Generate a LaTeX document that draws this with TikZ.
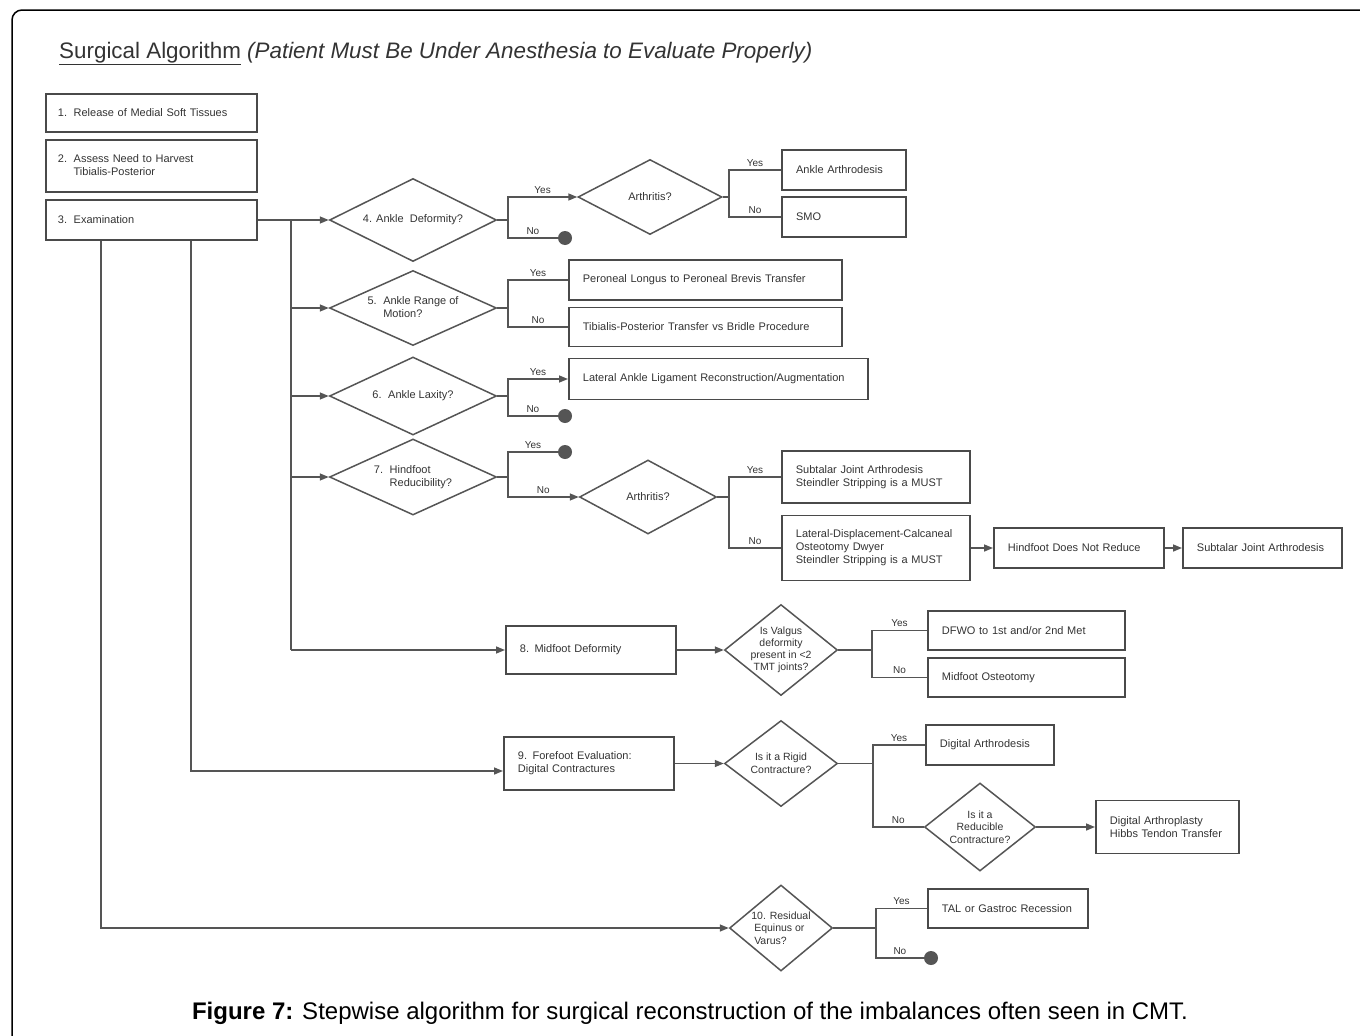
\documentclass[tikz,border=0pt]{standalone}
\usepackage{fontspec}
\setmainfont{Liberation Sans}
\usetikzlibrary{shapes.geometric,arrows.meta}
\definecolor{ln}{HTML}{555555}
\definecolor{bd}{HTML}{4A4A4A}
\definecolor{tx}{HTML}{333333}
\newcommand\hangtxt[3]{\begin{tabular}[c]{@{}l@{\hspace{0.6em}}l@{}}#1&#2\\&#3\end{tabular}}
\begin{document}
\begin{tikzpicture}[x=1pt,y=-1pt,
  every node/.style={text=tx, font=\fontsize{11}{13}\selectfont},
  box/.style={draw=bd, line width=1.8pt, anchor=west, inner xsep=14pt, inner ysep=2pt, align=left},
  dia/.style={draw=ln, line width=1.5pt, diamond, inner sep=-12pt, align=center},
  conn/.style={draw=ln, line width=1.5pt},
  arr/.style={conn, -{Triangle[length=9pt,width=7pt]}},
  lab/.style={font=\fontsize{10}{12}\selectfont, above=2pt, inner sep=1pt, pos=0.75},
  enddot/.style={circle, fill=ln, minimum size=14pt, inner sep=0pt},
]
\useasboundingbox (0,0) rectangle (1360,1036);
\draw[line width=1.5pt, rounded corners=10pt] (12,1040) -- (12,10) -- (1365,10);

% title and caption
\node[anchor=base west, inner sep=0pt, font=\fontsize{22.4}{26}\selectfont] (title) at (59,58)
  {\underline{Surgical Algorithm} \textit{(Patient Must Be Under Anesthesia to Evaluate Properly)}};
\node[anchor=base, inner sep=0pt, text=black, font=\fontsize{24}{28}\selectfont] (cap) at (690,1019)
  {\textbf{Figure 7:} Stepwise algorithm for surgical reconstruction of the imbalances often seen in CMT.};

% left column
\node[box, inner xsep=12pt, minimum width=211pt, minimum height=38pt, text width=187pt] (b1) at (45,113) {1.\hspace{0.6em}Release of Medial Soft Tissues};
\node[box, inner xsep=12pt, minimum width=211pt, minimum height=52pt, text width=187pt] (b2) at (45,166) {\hangtxt{2.}{Assess Need to Harvest}{Tibialis-Posterior}};
\node[box, inner xsep=12pt, minimum width=211pt, minimum height=40pt, text width=187pt] (b3) at (45,220) {3.\hspace{0.6em}Examination};

% diamonds column
\node[dia, minimum width=167pt, minimum height=83pt] (d4) at (413,220) {4. Ankle\ \ Deformity?};
\node[dia, minimum width=167pt, minimum height=75pt] (d5) at (413,308) {\hangtxt{5.}{Ankle Range of}{Motion?}};
\node[dia, minimum width=167pt, minimum height=78pt] (d6) at (413,396) {6.\hspace{0.6em}Ankle Laxity?};
\node[dia, minimum width=167pt, minimum height=76pt] (d7) at (413,477) {\hangtxt{7.}{Hindfoot}{Reducibility?}};

% step 4
\node[dia, minimum width=144pt, minimum height=75pt] (ar1) at (650,197) {Arthritis?};
\node[enddot] (dot4) at (565,238) {};
\node[box, line width=2.2pt, minimum width=124pt, minimum height=40pt, text width=96pt] (aa) at (781,170) {Ankle Arthrodesis};
\node[box, line width=2.2pt, minimum width=124pt, minimum height=40pt, text width=96pt] (smo) at (781,217) {SMO};

% step 5
\node[box, minimum width=273pt, minimum height=40pt, text width=245pt] (plpb) at (568,280) {Peroneal Longus to Peroneal Brevis Transfer};
\node[box, minimum width=273pt, minimum height=39pt, text width=245pt] (tpt) at (568,327) {Tibialis-Posterior Transfer vs Bridle Procedure};

% step 6
\node[box, minimum width=299pt, minimum height=41pt, text width=271pt] (lal) at (568,379) {Lateral Ankle Ligament Reconstruction/Augmentation};
\node[enddot] (dot6) at (565,416) {};

% step 7
\node[enddot] (dot7) at (565,452) {};
\node[dia, minimum width=137pt, minimum height=74pt] (ar2) at (648,497) {Arthritis?};
\node[box, minimum width=188pt, minimum height=52pt, text width=160pt] (sja1) at (781,477) {Subtalar Joint Arthrodesis\\Steindler Stripping is a MUST};
\node[box, minimum width=188pt, minimum height=65pt, text width=160pt] (ldc) at (781,548) {Lateral-Displacement-Calcaneal\\Osteotomy Dwyer\\Steindler Stripping is a MUST};
\node[box, minimum width=170pt, minimum height=40pt, text width=142pt] (hdnr) at (993,548) {Hindfoot Does Not Reduce};
\node[box, minimum width=159pt, minimum height=40pt, text width=131pt] (sja2) at (1182,548) {Subtalar Joint Arthrodesis};

% step 8
\node[box, minimum width=170pt, minimum height=48pt, text width=142pt] (b8) at (505,650) {8.\hspace{0.5em}Midfoot Deformity};
\node[dia, minimum width=113pt, minimum height=91pt, font=\fontsize{10.5}{12}\selectfont] (valg) at (781,650) {Is Valgus\\deformity\\present in <2\\TMT joints?};
\node[box, minimum width=197pt, minimum height=39pt, text width=169pt] (dfwo) at (927,630.5) {DFWO to 1st and/or 2nd Met};
\node[box, minimum width=197pt, minimum height=39pt, text width=169pt] (mo) at (927,677.5) {Midfoot Osteotomy};

% step 9
\node[box, minimum width=170pt, minimum height=53pt, text width=142pt] (b9) at (503,763.5) {9. Forefoot Evaluation:\\Digital Contractures};
\node[dia, minimum width=113pt, minimum height=86pt, font=\fontsize{10.5}{13}\selectfont] (rig) at (781,763.5) {Is it a Rigid\\Contracture?};
\node[box, minimum width=128pt, minimum height=40pt, text width=100pt] (da) at (925,745) {Digital Arthrodesis};
\node[dia, minimum width=111pt, minimum height=88pt, font=\fontsize{10.5}{12.5}\selectfont] (red) at (980,827) {Is it a\\Reducible\\Contracture?};
\node[box, minimum width=143pt, minimum height=53pt, text width=115pt] (dahtt) at (1095,827) {Digital Arthroplasty\\Hibbs Tendon Transfer};

% step 10
\node[dia, minimum width=103pt, minimum height=86pt, align=left, font=\fontsize{10.5}{12.5}\selectfont] (d10) at (781,928) {10. Residual\\\ Equinus or\\\ Varus?};
\node[box, minimum width=160pt, minimum height=39pt, text width=132pt] (tal) at (927,908.5) {TAL or Gastroc Recession};
\node[enddot] (dot10) at (931,958) {};

% junctions
\coordinate (t0) at (291,220);
\coordinate (t8) at (291,650);
\coordinate (t9) at (191,771);
\coordinate (t10) at (101,928);
\coordinate (j4) at (508,220);
\coordinate (ja1) at (729,197);
\coordinate (j5) at (508,308);
\coordinate (j6) at (508,396);
\coordinate (j7) at (508,477);
\coordinate (ja2) at (729,497);
\coordinate (jv) at (872,650);
\coordinate (jr) at (873,763.5);
\coordinate (j10) at (876,928);

% trunks
\draw[conn] (b3.east) -- (t0);
\draw[arr] (t0) -- (d4.west);
\draw[conn] (t0) -- (t8);
\draw[arr] (t0 |- d5.west) -- (d5.west);
\draw[arr] (t0 |- d6.west) -- (d6.west);
\draw[arr] (t0 |- d7.west) -- (d7.west);
\draw[arr] (t8) -- (b8.west);
\draw[arr] (b3.south -| t9) |- (b9.west |- t9);
\draw[arr] (b3.south -| t10) |- (d10.west);

% step 4
\draw[conn] (d4.east) -- (j4);
\draw[arr] (j4) |- node[lab] {Yes} (ar1.west);
\draw[conn] (j4) |- node[lab] {No} (dot4.west);
\draw[conn] (ar1.east) -- (ja1);
\draw[conn] (ja1) |- node[lab] {Yes} (aa.west);
\draw[conn] (ja1) |- node[lab] {No} (smo.west);

% step 5
\draw[conn] (d5.east) -- (j5);
\draw[conn] (j5) |- node[lab] {Yes} (plpb.west);
\draw[conn] (j5) |- node[lab] {No} (tpt.west);

% step 6
\draw[conn] (d6.east) -- (j6);
\draw[arr] (j6) |- node[lab] {Yes} (lal.west);
\draw[conn] (j6) |- node[lab] {No} (dot6.west);

% step 7
\draw[conn] (d7.east) -- (j7);
\draw[conn] (j7) |- node[lab] {Yes} (dot7.west);
\draw[arr] (j7) |- node[lab] {No} (ar2.west);
\draw[conn] (ar2.east) -- (ja2);
\draw[conn] (ja2) |- node[lab] {Yes} (sja1.west);
\draw[conn] (ja2) |- node[lab] {No} (ldc.west);
\draw[arr] (ldc.east) -- (hdnr.west);
\draw[arr] (hdnr.east) -- (sja2.west);

% step 8
\draw[arr] (b8.east) -- (valg.west);
\draw[conn] (valg.east) -- (jv);
\draw[conn] (jv) |- node[lab] {Yes} (dfwo.west);
\draw[conn] (jv) |- node[lab] {No} (mo.west);

% step 9
\draw[arr] (b9.east) -- (rig.west);
\draw[conn] (rig.east) -- (jr);
\draw[conn] (jr) |- node[lab] {Yes} (da.west);
\draw[conn] (jr) |- node[lab] {No} (red.west);
\draw[arr] (red.east) -- (dahtt.west);

% step 10
\draw[conn] (d10.east) -- (j10);
\draw[conn] (j10) |- node[lab] {Yes} (tal.west);
\draw[conn] (j10) |- node[lab] {No} (dot10.west);
\end{tikzpicture}
\end{document}
